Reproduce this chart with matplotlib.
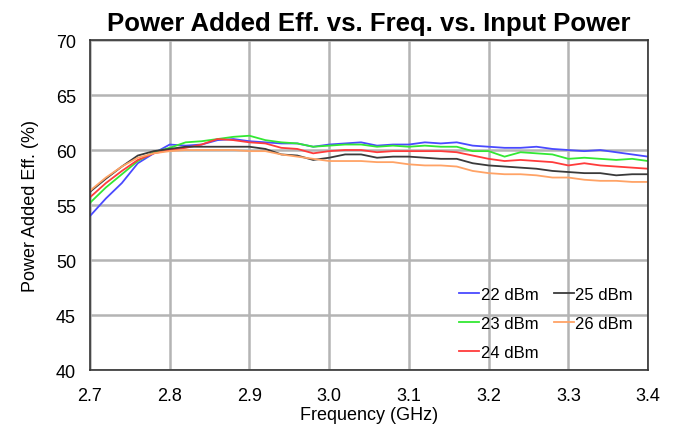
import matplotlib
matplotlib.use('Agg')
import matplotlib.pyplot as plt
import numpy as np

plt.rcParams['font.family'] = ['Liberation Sans', 'DejaVu Sans']

freq = np.round(np.arange(2.70, 3.401, 0.02), 2)

pae_22 = [54.0, 55.6, 57.0, 58.8, 59.7, 60.5, 60.4, 60.5, 60.9, 61.0,
          60.8, 60.7, 60.6, 60.6, 60.3, 60.5, 60.6, 60.7, 60.4, 60.5,
          60.5, 60.7, 60.6, 60.7, 60.4, 60.3, 60.2, 60.2, 60.3, 60.1,
          60.0, 59.9, 60.0, 59.8, 59.6, 59.4]
pae_23 = [55.2, 56.6, 57.8, 59.0, 59.8, 60.2, 60.7, 60.8, 61.0, 61.2,
          61.3, 60.9, 60.7, 60.6, 60.3, 60.4, 60.5, 60.5, 60.3, 60.4,
          60.3, 60.4, 60.3, 60.3, 59.9, 59.9, 59.4, 59.8, 59.7, 59.6,
          59.2, 59.3, 59.2, 59.1, 59.2, 59.0]
pae_24 = [55.7, 57.0, 58.1, 59.1, 59.7, 60.0, 60.2, 60.5, 61.0, 60.9,
          60.7, 60.6, 60.2, 60.1, 59.7, 59.9, 60.0, 60.0, 59.8, 59.9,
          59.9, 59.9, 59.9, 59.8, 59.5, 59.2, 59.0, 59.1, 59.0, 58.9,
          58.6, 58.8, 58.6, 58.5, 58.4, 58.3]
pae_25 = [56.2, 57.4, 58.5, 59.5, 59.9, 60.1, 60.3, 60.3, 60.3, 60.3,
          60.3, 60.1, 59.6, 59.5, 59.1, 59.3, 59.6, 59.6, 59.3, 59.4,
          59.4, 59.3, 59.2, 59.2, 58.8, 58.6, 58.5, 58.4, 58.3, 58.1,
          58.0, 57.9, 57.9, 57.7, 57.8, 57.8]
pae_26 = [56.3, 57.5, 58.5, 59.3, 59.7, 59.9, 60.0, 60.0, 60.0, 60.0,
          59.9, 59.9, 59.6, 59.4, 59.2, 59.0, 59.0, 59.0, 58.9, 58.9,
          58.7, 58.6, 58.6, 58.5, 58.1, 57.9, 57.8, 57.8, 57.7, 57.5,
          57.5, 57.3, 57.2, 57.2, 57.1, 57.1]

labels = ['22 dBm', '23 dBm', '24 dBm', '25 dBm', '26 dBm']
colors = ['#4a4aff', '#33e833', '#ff3b3b', '#3a3a3a', '#ffa366']
series = [pae_22, pae_23, pae_24, pae_25, pae_26]

fig = plt.figure(figsize=(6.73, 4.35), dpi=100)
ax = fig.add_axes([0.1337, 0.147, 0.8293, 0.7587])

for vals, lab, col in zip(series, labels, colors):
    ax.plot(freq, vals, color=col, linewidth=1.3, label=lab)

ax.set_xlim(2.7, 3.4)
ax.set_ylim(40, 70)
ax.set_xticks(np.arange(2.7, 3.41, 0.1))
ax.set_xticklabels(['2.7', '2.8', '2.9', '3.0', '3.1', '3.2', '3.3', '3.4'])
ax.set_yticks(np.arange(40, 71, 5))
ax.grid(True, color='#b4b4b4', linewidth=1.8)
ax.set_axisbelow(True)
ax.tick_params(length=0, labelsize=13)
ax.tick_params(axis='x', pad=12)
ax.tick_params(axis='y', pad=10)
for s in ax.spines.values():
    s.set_color('#333333')
    s.set_linewidth(1.2)

ax.set_title('Power Added Eff. vs. Freq. vs. Input Power', fontsize=18.5,
             fontweight='bold', pad=7)
ax.set_xlabel('Frequency (GHz)', fontsize=13, labelpad=2)
ax.set_ylabel('Power Added Eff. (%)', fontsize=13, labelpad=12)

handles, labs = ax.get_legend_handles_labels()
ax.legend(handles, labs, ncol=2, loc='lower right', bbox_to_anchor=(1.0, -0.015),
          frameon=False, fontsize=12, handlelength=1.2, handletextpad=0.1,
          columnspacing=0.9, labelspacing=0.85)

fig.savefig('out.png', dpi=100)
